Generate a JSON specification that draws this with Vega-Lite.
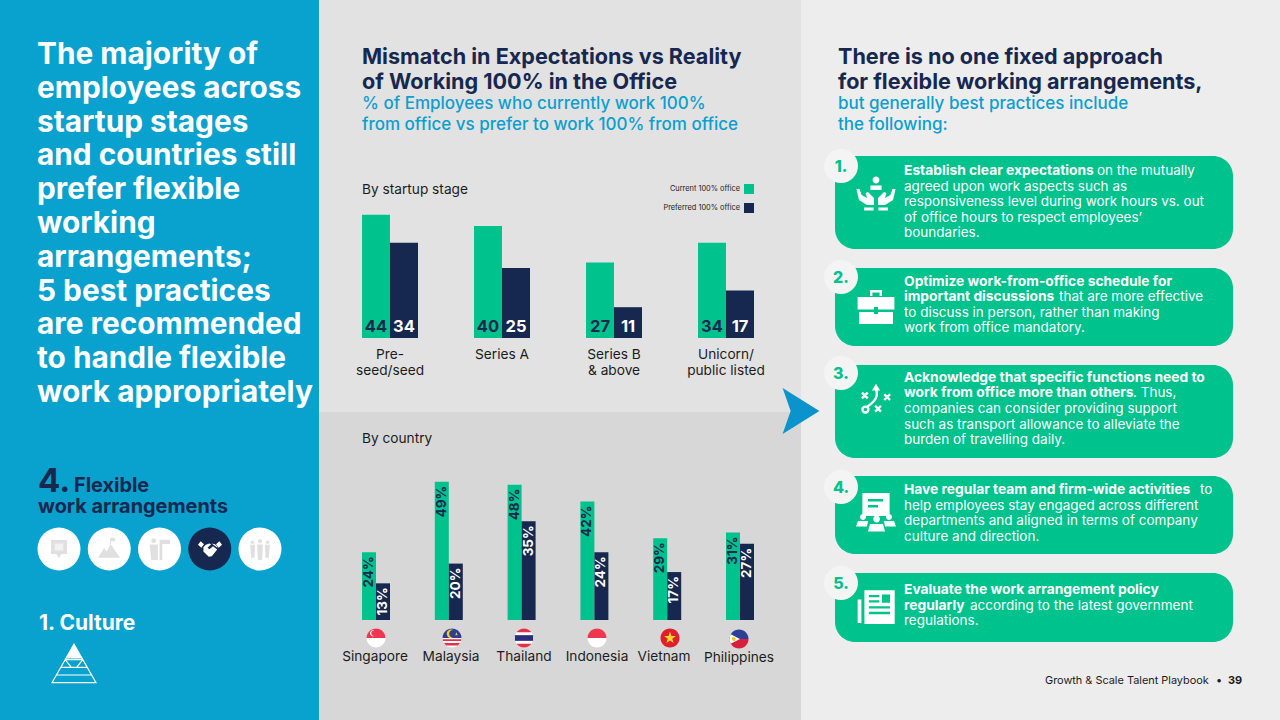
{
"$schema":"https://vega.github.io/schema/vega-lite/v6.json",
"width":1280,"height":720,"padding":0,
"autosize":{"type":"fit","contains":"padding"},
"background":"#ffffff",
"config":{"view":{"stroke":null},
 "style":{
  "hero":{"font":"Inter","fontWeight":700,"fontSize":29.8,"align":"left","baseline":"alphabetic","lineBreak":"\n","lineHeight":33.8},
  "h":{"font":"Inter","fontWeight":700,"fontSize":21.6,"align":"left","baseline":"alphabetic","lineBreak":"\n","lineHeight":25},
  "sub":{"font":"Inter","fontWeight":500,"fontSize":17,"align":"left","baseline":"alphabetic","lineBreak":"\n","lineHeight":20.5},
  "lab":{"font":"Inter","fontWeight":400,"fontSize":13.7,"align":"left","baseline":"alphabetic","lineBreak":"\n","lineHeight":16},
  "cat":{"font":"Inter","fontWeight":400,"fontSize":13.7,"align":"center","baseline":"alphabetic","lineBreak":"\n","lineHeight":16},
  "leg":{"font":"Inter","fontWeight":400,"fontSize":7.4,"align":"right","baseline":"alphabetic"},
  "nav":{"font":"Inter","fontWeight":700,"fontSize":19.9,"align":"left","baseline":"alphabetic"},
  "b":{"font":"Inter","fontWeight":700,"fontSize":13.8,"align":"left","baseline":"alphabetic","lineBreak":"\n","lineHeight":15.5},
  "r":{"font":"Inter","fontWeight":400,"fontSize":13.5,"align":"left","baseline":"alphabetic","lineBreak":"\n","lineHeight":15.5},
  "num":{"font":"Inter","fontWeight":800,"fontSize":16,"align":"center","baseline":"alphabetic"},
  "foot":{"font":"Inter","fontWeight":400,"fontSize":10.9,"align":"left","baseline":"alphabetic"}
 }},
"datasets":{
 "stage":[
  {"stage":"Pre-\nseed/seed","series":"Current","value":44},{"stage":"Pre-\nseed/seed","series":"Preferred","value":34},
  {"stage":"Series A","series":"Current","value":40},{"stage":"Series A","series":"Preferred","value":25},
  {"stage":"Series B\n& above","series":"Current","value":27},{"stage":"Series B\n& above","series":"Preferred","value":11},
  {"stage":"Unicorn/\npublic listed","series":"Current","value":34},{"stage":"Unicorn/\npublic listed","series":"Preferred","value":17}],
 "country":[
  {"country":"Singapore","series":"Current","value":0.24},{"country":"Singapore","series":"Preferred","value":0.13},
  {"country":"Malaysia","series":"Current","value":0.49},{"country":"Malaysia","series":"Preferred","value":0.20},
  {"country":"Thailand","series":"Current","value":0.48},{"country":"Thailand","series":"Preferred","value":0.35},
  {"country":"Indonesia","series":"Current","value":0.42},{"country":"Indonesia","series":"Preferred","value":0.24},
  {"country":"Vietnam","series":"Current","value":0.29},{"country":"Vietnam","series":"Preferred","value":0.17},
  {"country":"Philippines","series":"Current","value":0.31},{"country":"Philippines","series":"Preferred","value":0.27}],
 "parts":[
  {"slot":"Singapore","part":"disc"},{"slot":"Singapore","part":"top_red"},{"slot":"Singapore","part":"sg_cres"},
  {"slot":"Malaysia","part":"disc"},{"slot":"Malaysia","part":"my_stripes"},{"slot":"Malaysia","part":"top_blue"},{"slot":"Malaysia","part":"my_cres"},
  {"slot":"Thailand","part":"disc"},{"slot":"Thailand","part":"th_red"},{"slot":"Thailand","part":"th_navy"},
  {"slot":"Indonesia","part":"disc"},{"slot":"Indonesia","part":"top_red"},
  {"slot":"Vietnam","part":"disc_red"},{"slot":"Vietnam","part":"vn_star"},
  {"slot":"Philippines","part":"top_blue"},{"slot":"Philippines","part":"bot_red"},{"slot":"Philippines","part":"ph_tri"},{"slot":"Philippines","part":"ph_sun"},
  {"slot":"card1","part":"hands"},
  {"slot":"card2","part":"case"},
  {"slot":"card4","part":"doc"},{"slot":"card4","part":"doc_lines"},{"slot":"card4","part":"crowd"},
  {"slot":"card5","part":"news"},{"slot":"card5","part":"news_lines"},
  {"slot":"nav1","part":"chat"},{"slot":"nav1","part":"chat_in"},
  {"slot":"nav2","part":"mount"},
  {"slot":"nav3","part":"leader"},
  {"slot":"nav4","part":"shake"},
  {"slot":"nav5","part":"people"}]
},
"resolve":{"scale":{"x":"independent","y":"independent","xOffset":"independent","color":"independent","fill":"independent","shape":"independent"}},
"layer":[
 {"data":{"values":[{"panel":"Left"}]},"mark":{"type":"rect","x":0,"x2":319,"y":0,"y2":720,"color":"#09A1CE"}},
 {"data":{"values":[{"panel":"Stage"}]},"mark":{"type":"rect","x":319,"x2":801,"y":0,"y2":412,"color":"#E2E2E2"}},
 {"data":{"values":[{"panel":"Country"}]},"mark":{"type":"rect","x":319,"x2":801,"y":412,"y2":720,"color":"#D7D7D7"}},
 {"data":{"values":[{"panel":"Right"}]},"mark":{"type":"rect","x":801,"x2":1280,"y":0,"y2":720,"color":"#EDEDED"}},
 {"data":{"values":[{"item":"arrow"}]},"mark":{"type":"point","filled":true,"opacity":1,"strokeWidth":0,"x":801,"y":411,"size":2116,"color":"#0A93CC","shape":"M-0.8,-1L0.8,0L-0.8,1L-0.45,0Z"}},

 {"data":{"values":[{"card":1}]},"mark":{"type":"rect","x":835,"x2":1233,"y":156,"y2":249,"cornerRadius":20,"color":"#00C28C"}},
 {"data":{"values":[{"card":2}]},"mark":{"type":"rect","x":835,"x2":1233,"y":268,"y2":346,"cornerRadius":20,"color":"#00C28C"}},
 {"data":{"values":[{"card":3}]},"mark":{"type":"rect","x":835,"x2":1233,"y":365,"y2":458,"cornerRadius":20,"color":"#00C28C"}},
 {"data":{"values":[{"card":4}]},"mark":{"type":"rect","x":835,"x2":1233,"y":476,"y2":554,"cornerRadius":20,"color":"#00C28C"}},
 {"data":{"values":[{"card":5}]},"mark":{"type":"rect","x":835,"x2":1233,"y":573,"y2":642,"cornerRadius":20,"color":"#00C28C"}},
 {"data":{"values":[{"badge":1}]},"mark":{"type":"point","shape":"circle","filled":true,"opacity":1,"strokeWidth":0,"x":841,"y":166,"size":1156,"color":"#F4F4F4"}},
 {"data":{"values":[{"badge":2}]},"mark":{"type":"point","shape":"circle","filled":true,"opacity":1,"strokeWidth":0,"x":841,"y":277,"size":1156,"color":"#F4F4F4"}},
 {"data":{"values":[{"badge":3}]},"mark":{"type":"point","shape":"circle","filled":true,"opacity":1,"strokeWidth":0,"x":841,"y":373,"size":1156,"color":"#F4F4F4"}},
 {"data":{"values":[{"badge":4}]},"mark":{"type":"point","shape":"circle","filled":true,"opacity":1,"strokeWidth":0,"x":841,"y":487,"size":1156,"color":"#F4F4F4"}},
 {"data":{"values":[{"badge":5}]},"mark":{"type":"point","shape":"circle","filled":true,"opacity":1,"strokeWidth":0,"x":841,"y":583,"size":1156,"color":"#F4F4F4"}},

 {"data":{"values":[{"step":1},{"step":2},{"step":3},{"step":4},{"step":5}]},
  "mark":{"type":"point","shape":"circle","filled":true,"opacity":1,"strokeWidth":0,"size":1849,"y":549},
  "encoding":{"x":{"field":"step","type":"ordinal","axis":null,"scale":{"type":"point","range":[59,260],"padding":0}},
   "color":{"field":"step","type":"ordinal","legend":null,"scale":{"domain":[1,2,3,4,5],"range":["#ffffff","#ffffff","#ffffff","#16284F","#ffffff"]}}}},

 {"data":{"name":"stage"},
  "encoding":{"x":{"field":"stage","type":"nominal","sort":null,"axis":null,"scale":{"type":"band","range":[362,754],"paddingInner":0.5,"paddingOuter":0}},
   "xOffset":{"field":"series","type":"nominal","sort":null,"scale":{"paddingInner":0,"paddingOuter":0}},
   "y":{"field":"value","type":"quantitative","axis":null,"stack":null,"scale":{"domain":[0,100],"range":[338,58]}}},
  "layer":[
   {"mark":{"type":"bar"},"encoding":{"color":{"field":"series","type":"nominal","legend":null,"scale":{"domain":["Current","Preferred"],"range":["#00C28C","#16284F"]}}}},
   {"mark":{"type":"text","font":"Inter","fontWeight":700,"fontSize":16.5,"baseline":"alphabetic","align":"center","dy":-6},
    "encoding":{"y":{"datum":0,"type":"quantitative"},"text":{"field":"value","type":"quantitative"},
     "fill":{"field":"series","type":"nominal","legend":null,"scale":{"domain":["Current","Preferred"],"range":["#16284F","#ffffff"]}}}}
  ]},
 {"data":{"name":"stage"},"transform":[{"filter":"datum.series=='Current'"}],
  "mark":{"type":"text","style":"cat","fill":"#1c1c1c","y":359},
  "encoding":{"x":{"field":"stage","type":"nominal","sort":null,"axis":null,"scale":{"type":"band","range":[362,754],"paddingInner":0.5,"paddingOuter":0}},
   "text":{"field":"stage","type":"nominal"}}},

 {"data":{"name":"country"},
  "encoding":{"x":{"field":"country","type":"nominal","sort":null,"axis":null,"scale":{"type":"band","range":[362,754],"paddingInner":0.6154,"paddingOuter":0}},
   "xOffset":{"field":"series","type":"nominal","sort":null,"scale":{"paddingInner":0,"paddingOuter":0}},
   "y":{"field":"value","type":"quantitative","axis":null,"stack":null,"scale":{"domain":[0,1],"range":[620,338]}}},
  "layer":[
   {"mark":{"type":"bar"},"encoding":{"color":{"field":"series","type":"nominal","legend":null,"scale":{"domain":["Current","Preferred"],"range":["#00C28C","#16284F"]}}}},
   {"mark":{"type":"text","font":"Inter","fontWeight":700,"fontSize":13.5,"angle":270,"align":"right","baseline":"middle","dx":-4},
    "encoding":{"text":{"field":"value","type":"quantitative","format":".0%"},
     "fill":{"field":"series","type":"nominal","legend":null,"scale":{"domain":["Current","Preferred"],"range":["#16284F","#ffffff"]}}}}
  ]},

 {"data":{"name":"parts"},
  "encoding":{
   "shape":{"field":"part","type":"nominal","legend":null,"scale":{
    "domain":["disc","disc_red","top_red","sg_cres","my_stripes","top_blue","my_cres","th_red","th_navy","vn_star","bot_red","ph_tri","ph_sun","hands","case","doc","doc_lines","crowd","news","news_lines","chat","chat_in","mount","leader","shake","people"],
    "range":[
     "M-1,0A1,1,0,1,1,1,0A1,1,0,1,1,-1,0Z",
     "M-1,0A1,1,0,1,1,1,0A1,1,0,1,1,-1,0Z",
     "M-1,0A1,1,0,0,1,1,0Z",
     "M-0.2,-0.8A0.32,0.32,0,1,0,-0.2,-0.2A0.27,0.27,0,1,1,-0.2,-0.8Z",
     "M-0.99,0.12L0.99,0.12L0.95,0.32L-0.95,0.32Z M-0.85,0.52L0.85,0.52L0.62,0.78L-0.62,0.78Z",
     "M-1,0A1,1,0,0,1,1,0Z",
     "M0.1,-0.85A0.45,0.45,0,1,0,0.1,-0.05A0.37,0.37,0,1,1,0.1,-0.85Z M0.45,-0.6L0.6,-0.3L0.35,-0.3Z",
     "M-0.8,-0.6A1,1,0,0,1,0.8,-0.6Z M-0.8,0.6A1,1,0,0,0,0.8,0.6Z",
     "M-0.96,-0.3L0.96,-0.3L0.96,0.3L-0.96,0.3Z",
     "M0,-0.65L0.15,-0.2L0.62,-0.2L0.24,0.08L0.38,0.53L0,0.25L-0.38,0.53L-0.24,0.08L-0.62,-0.2L-0.15,-0.2Z",
     "M-1,0A1,1,0,0,0,1,0Z",
     "M-0.87,-0.5L0.1,0L-0.87,0.5A1,1,0,0,1,-0.87,-0.5Z",
     "M-0.75,0A0.2,0.2,0,1,1,-0.35,0A0.2,0.2,0,1,1,-0.75,0Z",
     "M-0.17,-0.7A0.17,0.17,0,1,1,0.17,-0.7A0.17,0.17,0,1,1,-0.17,-0.7Z M-0.28,-0.42L0.28,-0.42L0.28,-0.2L-0.28,-0.2Z M-0.98,-0.25L-0.82,-0.25L-0.72,0.05L-0.45,0.2L-0.52,-0.05L-0.4,-0.1L-0.1,0.2L-0.1,0.55L-0.45,0.55L-0.85,0.3Z M0.98,-0.25L0.82,-0.25L0.72,0.05L0.45,0.2L0.52,-0.05L0.4,-0.1L0.1,0.2L0.1,0.55L0.45,0.55L0.85,0.3Z M-0.6,0.68L-0.12,0.68L-0.12,0.82L-0.6,0.82Z M0.12,0.68L0.6,0.68L0.6,0.82L0.12,0.82Z",
     "M-0.3,-0.85L0.3,-0.85L0.3,-0.55L0.18,-0.55L0.18,-0.73L-0.18,-0.73L-0.18,-0.55L-0.3,-0.55Z M-0.92,-0.5L0.92,-0.5L0.92,0.12L0.1,0.12L0.1,0L-0.1,0L-0.1,0.12L-0.92,0.12Z M-0.85,0.25L-0.1,0.25L-0.1,0.35L0.1,0.35L0.1,0.25L0.85,0.25L0.85,0.85L-0.85,0.85Z",
     "M-0.68,-0.95L0.68,-0.95L0.68,0.2L-0.68,0.2Z",
     "M-0.4,-0.65L0.35,-0.65L0.35,-0.52L-0.4,-0.52Z M-0.4,-0.35L0.1,-0.35L0.1,-0.22L-0.4,-0.22Z",
     "M-0.14,0.35A0.17,0.17,0,1,1,0.2,0.35A0.17,0.17,0,1,1,-0.14,0.35Z M-0.8,0.25A0.15,0.15,0,1,1,-0.5,0.25A0.15,0.15,0,1,1,-0.8,0.25Z M0.5,0.25A0.15,0.15,0,1,1,0.8,0.25A0.15,0.15,0,1,1,0.5,0.25Z M-0.4,0.98L-0.3,0.6L0.35,0.6L0.45,0.98Z M-1,0.72L-0.9,0.45L-0.4,0.45L-0.45,0.72Z M0.45,0.72L0.4,0.45L0.9,0.45L1,0.72Z",
     "M-0.98,-0.45L-0.78,-0.45L-0.78,0.8L-0.98,0.8Z M-0.62,-0.95L1,-0.95L1,0.85L-0.62,0.85Z",
     "M-0.38,-0.7L0.18,-0.7L0.18,-0.58L-0.38,-0.58Z M-0.38,-0.42L0.18,-0.42L0.18,-0.3L-0.38,-0.3Z M0.32,-0.72L0.75,-0.72L0.75,-0.28L0.32,-0.28Z M-0.38,-0.1L0.75,-0.1L0.75,0.03L-0.38,0.03Z M-0.38,0.2L0.75,0.2L0.75,0.33L-0.38,0.33Z",
     "M-0.8,-0.9L0.8,-0.9L0.8,0.5L0.25,0.5L0,0.95L-0.25,0.5L-0.8,0.5Z",
     "M-0.42,-0.55L0.42,-0.55L0.42,0.15L-0.42,0.15Z",
     "M-1,0.8L-0.45,-0.1L-0.2,0.25L0.15,-0.45L1,0.8Z M0.1,-1L0.55,-1L0.55,-0.7L0.18,-0.7L0.18,-0.45L0.1,-0.45Z",
     "M-0.7,-0.75A0.22,0.22,0,1,1,-0.26,-0.75A0.22,0.22,0,1,1,-0.7,-0.75Z M-0.85,-0.42L-0.1,-0.42L-0.1,1L-0.7,1Z M0.05,-0.85L1,-0.85L1,-0.45L0.3,-0.45L0.3,1L0.05,1Z",
     "M-1,-0.35L-0.78,-0.65L-0.5,-0.4L-0.72,-0.1Z M1,-0.35L0.78,-0.65L0.5,-0.4L0.72,-0.1Z M-0.55,-0.15L-0.35,-0.35L-0.05,-0.45L0.1,-0.4L-0.2,-0.1L-0.05,0.02L0.25,-0.22L0.6,0.05L0.15,0.6L-0.1,0.65L-0.55,0.2Z M0.15,-0.45L0.42,-0.4L0.6,-0.2L0.62,-0.1L0.28,-0.35Z",
     "M-0.2,-0.7A0.2,0.2,0,1,1,0.2,-0.7A0.2,0.2,0,1,1,-0.2,-0.7Z M-0.26,-0.42L0.26,-0.42L0.2,1L-0.2,1Z M-0.85,-0.62A0.16,0.16,0,1,1,-0.53,-0.62A0.16,0.16,0,1,1,-0.85,-0.62Z M-0.9,-0.38L-0.45,-0.38L-0.5,0.8L-0.8,0.8Z M0.53,-0.62A0.16,0.16,0,1,1,0.85,-0.62A0.16,0.16,0,1,1,0.53,-0.62Z M0.45,-0.38L0.9,-0.38L0.8,0.8L0.5,0.8Z"
    ]}},
   "color":{"field":"part","type":"nominal","legend":null,"scale":{
    "domain":["disc","disc_red","top_red","sg_cres","my_stripes","top_blue","my_cres","th_red","th_navy","vn_star","bot_red","ph_tri","ph_sun","hands","case","doc","doc_lines","crowd","news","news_lines","chat","chat_in","mount","leader","shake","people"],
    "range":["#ffffff","#E01E2E","#F0364F","#ffffff","#E5304A","#2C3E96","#F6D21C","#E5304A","#2A2F7A","#F8D92A","#D8203C","#ffffff","#F2C81E","#ffffff","#ffffff","#ffffff","#00C28C","#ffffff","#ffffff","#00C28C","#E0E0E0","#F2F2F2","#E0E0E0","#E0E0E0","#ffffff","#E0E0E0"]}}
  },
  "layer":[
   {"transform":[{"filter":"datum.slot=='Singapore'"}],"mark":{"type":"point","filled":true,"opacity":1,"strokeWidth":0,"size":361,"x":376,"y":638}},
   {"transform":[{"filter":"datum.slot=='Malaysia'"}],"mark":{"type":"point","filled":true,"opacity":1,"strokeWidth":0,"size":361,"x":452,"y":638}},
   {"transform":[{"filter":"datum.slot=='Thailand'"}],"mark":{"type":"point","filled":true,"opacity":1,"strokeWidth":0,"size":361,"x":524,"y":638}},
   {"transform":[{"filter":"datum.slot=='Indonesia'"}],"mark":{"type":"point","filled":true,"opacity":1,"strokeWidth":0,"size":361,"x":597,"y":638}},
   {"transform":[{"filter":"datum.slot=='Vietnam'"}],"mark":{"type":"point","filled":true,"opacity":1,"strokeWidth":0,"size":361,"x":670,"y":638}},
   {"transform":[{"filter":"datum.slot=='Philippines'"}],"mark":{"type":"point","filled":true,"opacity":1,"strokeWidth":0,"size":361,"x":739,"y":639}},
   {"transform":[{"filter":"datum.slot=='card1'"}],"mark":{"type":"point","filled":true,"opacity":1,"strokeWidth":0,"size":1600,"x":876,"y":194}},
   {"transform":[{"filter":"datum.slot=='card2'"}],"mark":{"type":"point","filled":true,"opacity":1,"strokeWidth":0,"size":1600,"x":876,"y":307}},
   {"transform":[{"filter":"datum.slot=='card4'"}],"mark":{"type":"point","filled":true,"opacity":1,"strokeWidth":0,"size":1600,"x":876,"y":512}},
   {"transform":[{"filter":"datum.slot=='card5'"}],"mark":{"type":"point","filled":true,"opacity":1,"strokeWidth":0,"size":1400,"x":876,"y":608}},
   {"transform":[{"filter":"datum.slot=='nav1'"}],"mark":{"type":"point","filled":true,"opacity":1,"strokeWidth":0,"size":400,"x":59,"y":549}},
   {"transform":[{"filter":"datum.slot=='nav2'"}],"mark":{"type":"point","filled":true,"opacity":1,"strokeWidth":0,"size":484,"x":109,"y":549}},
   {"transform":[{"filter":"datum.slot=='nav3'"}],"mark":{"type":"point","filled":true,"opacity":1,"strokeWidth":0,"size":484,"x":159,"y":549}},
   {"transform":[{"filter":"datum.slot=='nav4'"}],"mark":{"type":"point","filled":true,"opacity":1,"strokeWidth":0,"size":576,"x":210,"y":549}},
   {"transform":[{"filter":"datum.slot=='nav5'"}],"mark":{"type":"point","filled":true,"opacity":1,"strokeWidth":0,"size":484,"x":260,"y":549}}
  ]},
 {"data":{"values":[{"icon":"tactics"}]},"mark":{"type":"point","filled":false,"opacity":1,"stroke":"#ffffff","strokeWidth":2.4,"size":1089,"x":876,"y":400,"shape":"M-0.85,-0.45L-0.5,-0.1M-0.5,-0.45L-0.85,-0.1M0.5,-0.35L0.85,0M0.85,-0.35L0.5,0M-0.05,0.35L0.3,0.7M0.3,0.35L-0.05,0.7M-0.55,0.42C0,0.05,0.15,-0.25,0,-0.65M-0.82,0.58A0.18,0.18,0,1,1,-0.46,0.58A0.18,0.18,0,1,1,-0.82,0.58ZM-0.12,-0.65L0,-0.85L0.12,-0.65Z"}},
 {"data":{"values":[{"icon":"pyramid"}]},"mark":{"type":"point","filled":false,"opacity":1,"stroke":"#ffffff","strokeWidth":1.2,"size":1936,"x":74,"y":664,"shape":"M-1,0.85L0,-0.9L1,0.85ZM-0.8,0.5L0.8,0.5M-0.6,0.15L0.6,0.15M-0.4,-0.2L-0.12,0.15M0.4,-0.2L0.12,0.15M-0.4,-0.2L0.4,-0.2"}},
 {"data":{"values":[{"icon":"apex"}]},"mark":{"type":"point","filled":true,"opacity":1,"strokeWidth":0,"color":"#ffffff","size":1936,"x":74,"y":664,"shape":"M-0.38,-0.25L0,-0.9L0.38,-0.25Z"}},

 {"data":{"values":[{"legend":"Current"}]},"mark":{"type":"rect","x":744,"x2":754,"y":184,"y2":194,"color":"#00C28C"}},
 {"data":{"values":[{"legend":"Preferred"}]},"mark":{"type":"rect","x":744,"x2":754,"y":203,"y2":213,"color":"#16284F"}},

 {"encoding":{"text":{"field":"t","type":"nominal"}},
  "layer":[
   {"data":{"values":[{"t":"The majority of\nemployees across\nstartup stages\nand countries still\nprefer flexible\nworking\narrangements;\n5 best practices\nare recommended\nto handle flexible\nwork appropriately"}]},"mark":{"type":"text","style":"hero","fill":"#ffffff","x":37,"y":64}},
   {"data":{"values":[{"t":"4."}]},"mark":{"type":"text","style":"nav","fill":"#16284F","fontSize":33,"x":38,"y":492}},
   {"data":{"values":[{"t":"Flexible"}]},"mark":{"type":"text","style":"nav","fill":"#16284F","x":74,"y":492}},
   {"data":{"values":[{"t":"work arrangements"}]},"mark":{"type":"text","style":"nav","fill":"#16284F","x":38,"y":513}},
   {"data":{"values":[{"t":"1. Culture"}]},"mark":{"type":"text","style":"nav","fontSize":21,"fill":"#ffffff","x":39,"y":630}},
   {"data":{"values":[{"t":"Mismatch in Expectations vs Reality\nof Working 100% in the Office"}]},"mark":{"type":"text","style":"h","fill":"#16284F","x":362,"y":64}},
   {"data":{"values":[{"t":"% of Employees who currently work 100%\nfrom office vs prefer to work 100% from office"}]},"mark":{"type":"text","style":"sub","fill":"#0A9FD0","x":362,"y":109}},
   {"data":{"values":[{"t":"By startup stage"}]},"mark":{"type":"text","style":"lab","fill":"#1c1c1c","x":362,"y":194}},
   {"data":{"values":[{"t":"By country"}]},"mark":{"type":"text","style":"lab","fill":"#1c1c1c","x":362,"y":443}},
   {"data":{"values":[{"t":"Current 100% office"}]},"mark":{"type":"text","style":"leg","fill":"#1c1c1c","x":740,"y":191}},
   {"data":{"values":[{"t":"Preferred 100% office"}]},"mark":{"type":"text","style":"leg","fill":"#1c1c1c","x":740,"y":210}},
   {"data":{"values":[{"t":"Singapore"}]},"mark":{"type":"text","style":"cat","fill":"#1c1c1c","x":375,"y":661}},
   {"data":{"values":[{"t":"Malaysia"}]},"mark":{"type":"text","style":"cat","fill":"#1c1c1c","x":451,"y":661}},
   {"data":{"values":[{"t":"Thailand"}]},"mark":{"type":"text","style":"cat","fill":"#1c1c1c","x":524,"y":661}},
   {"data":{"values":[{"t":"Indonesia"}]},"mark":{"type":"text","style":"cat","fill":"#1c1c1c","x":597,"y":661}},
   {"data":{"values":[{"t":"Vietnam"}]},"mark":{"type":"text","style":"cat","fill":"#1c1c1c","x":664,"y":661}},
   {"data":{"values":[{"t":"Philippines"}]},"mark":{"type":"text","style":"cat","fill":"#1c1c1c","x":739,"y":662}},
   {"data":{"values":[{"t":"There is no one fixed approach\nfor flexible working arrangements,"}]},"mark":{"type":"text","style":"h","fill":"#16284F","x":838,"y":64}},
   {"data":{"values":[{"t":"but generally best practices include\nthe following:"}]},"mark":{"type":"text","style":"sub","fill":"#0A9FD0","x":838,"y":109}},
   {"data":{"values":[{"t":"1."}]},"mark":{"type":"text","style":"num","fill":"#00C28C","x":841,"y":172}},
   {"data":{"values":[{"t":"2."}]},"mark":{"type":"text","style":"num","fill":"#00C28C","x":841,"y":283}},
   {"data":{"values":[{"t":"3."}]},"mark":{"type":"text","style":"num","fill":"#00C28C","x":841,"y":379}},
   {"data":{"values":[{"t":"4."}]},"mark":{"type":"text","style":"num","fill":"#00C28C","x":841,"y":493}},
   {"data":{"values":[{"t":"5."}]},"mark":{"type":"text","style":"num","fill":"#00C28C","x":841,"y":589}},
   {"data":{"values":[{"t":"Establish clear expectations"}]},"mark":{"type":"text","style":"b","fill":"#ffffff","x":904,"y":174.5}},
   {"data":{"values":[{"t":"on the mutually"}]},"mark":{"type":"text","style":"r","fill":"#ffffff","x":1097,"y":174.5}},
   {"data":{"values":[{"t":"agreed upon work aspects such as\nresponsiveness level during work hours vs. out\nof office hours to respect employees’\nboundaries."}]},"mark":{"type":"text","style":"r","fill":"#ffffff","x":904,"y":190.5}},
   {"data":{"values":[{"t":"Optimize work-from-office schedule for\nimportant discussions"}]},"mark":{"type":"text","style":"b","fill":"#ffffff","x":904,"y":285.5}},
   {"data":{"values":[{"t":"that are more effective"}]},"mark":{"type":"text","style":"r","fill":"#ffffff","x":1059,"y":301}},
   {"data":{"values":[{"t":"to discuss in person, rather than making\nwork from office mandatory."}]},"mark":{"type":"text","style":"r","fill":"#ffffff","x":904,"y":316.5}},
   {"data":{"values":[{"t":"Acknowledge that specific functions need to\nwork from office more than others"}]},"mark":{"type":"text","style":"b","fill":"#ffffff","x":904,"y":381.5}},
   {"data":{"values":[{"t":". Thus,"}]},"mark":{"type":"text","style":"r","fill":"#ffffff","x":1133,"y":397}},
   {"data":{"values":[{"t":"companies can consider providing support\nsuch as transport allowance to alleviate the\nburden of travelling daily."}]},"mark":{"type":"text","style":"r","fill":"#ffffff","x":904,"y":413}},
   {"data":{"values":[{"t":"Have regular team and firm-wide activities"}]},"mark":{"type":"text","style":"b","fill":"#ffffff","x":904,"y":493.5}},
   {"data":{"values":[{"t":"to"}]},"mark":{"type":"text","style":"r","fill":"#ffffff","x":1200,"y":493.5}},
   {"data":{"values":[{"t":"help employees stay engaged across different\ndepartments and aligned in terms of company\nculture and direction."}]},"mark":{"type":"text","style":"r","fill":"#ffffff","x":904,"y":509.5}},
   {"data":{"values":[{"t":"Evaluate the work arrangement policy\nregularly"}]},"mark":{"type":"text","style":"b","fill":"#ffffff","x":904,"y":594}},
   {"data":{"values":[{"t":"according to the latest government"}]},"mark":{"type":"text","style":"r","fill":"#ffffff","x":970,"y":609.5}},
   {"data":{"values":[{"t":"regulations."}]},"mark":{"type":"text","style":"r","fill":"#ffffff","x":904,"y":625}},
   {"data":{"values":[{"t":"Growth & Scale Talent Playbook"}]},"mark":{"type":"text","style":"foot","fill":"#1c1c1c","x":1045,"y":684}},
   {"data":{"values":[{"t":"•"}]},"mark":{"type":"text","style":"foot","fill":"#1c1c1c","x":1216,"y":684}},
   {"data":{"values":[{"t":"39"}]},"mark":{"type":"text","style":"foot","fill":"#1c1c1c","fontWeight":700,"x":1228,"y":684}}
  ]}
]}
